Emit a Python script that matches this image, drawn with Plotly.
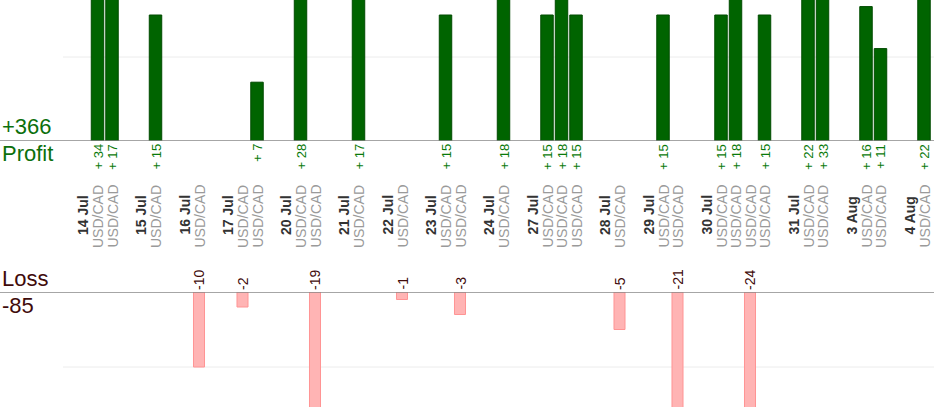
import plotly.graph_objects as go

# ---- data ----
trade_dates = ["14 Jul", "14 Jul", "15 Jul", "16 Jul", "17 Jul", "17 Jul", "20 Jul", "20 Jul",
               "21 Jul", "22 Jul", "23 Jul", "23 Jul", "24 Jul", "27 Jul", "27 Jul", "27 Jul",
               "28 Jul", "29 Jul", "29 Jul", "30 Jul", "30 Jul", "30 Jul", "30 Jul",
               "31 Jul", "31 Jul", "3 Aug", "3 Aug", "4 Aug"]
trade_pairs = ["USD/CAD"] * len(trade_dates)
trade_results = [34, 17, 15, -10, -2, 7, 28, -19,
                 17, -1, 15, -3, 18, 15, 18, 15,
                 -5, 15, -21, 15, 18, -24, 15,
                 22, 33, 16, 11, 22]

total_profit = sum(v for v in trade_results if v > 0)
total_loss = sum(v for v in trade_results if v < 0)

# ---- slot layout: [date label][trades...][gap] ----
date_slots = {}
trade_x = []
slot = 0
prev = None
for d in trade_dates:
    if d != prev:
        if prev is not None:
            slot += 1  # gap
        date_slots[d] = slot
        slot += 1
        prev = d
    trade_x.append(slot)
    slot += 1

W, H = 934, 420
PX_PER_SLOT = 14.5
X0_PX = 83
x_range = [-X0_PX / PX_PER_SLOT, (W - X0_PX) / PX_PER_SLOT]

TOP_BASE_PX = 141
TOP_SCALE = 8.4
BOT_BASE_PX = 292
BOT_END_PX = 407
BOT_SCALE = 7.5

def py(px):
    return (H - px) / H

FONT = "Liberation Sans, Arial, sans-serif"
GREEN_TXT = "#0c700c"
MAROON = "#3f0b0b"

prof_x = [x for x, v in zip(trade_x, trade_results) if v > 0]
prof_y = [v for v in trade_results if v > 0]
loss_x = [x for x, v in zip(trade_x, trade_results) if v < 0]
loss_y = [v for v in trade_results if v < 0]

fig = go.Figure()
fig.add_trace(go.Bar(x=prof_x, y=prof_y, width=0.86, xaxis="x", yaxis="y",
                     marker=dict(color="#006400", line=dict(color="#004b00", width=1)),
                     hoverinfo="skip", showlegend=False))
fig.add_trace(go.Bar(x=loss_x, y=loss_y, width=0.76, xaxis="x", yaxis="y2",
                     marker=dict(color="#ffb4b4", line=dict(color="#ff9494", width=1)),
                     hoverinfo="skip", showlegend=False))

annotations = []
# profit value labels
for x, v in zip(prof_x, prof_y):
    annotations.append(dict(x=x, y=0, xref="x", yref="y", text="+ %d" % v, textangle=-90,
                            showarrow=False, xanchor="center", yanchor="top", yshift=-1,
                            font=dict(family=FONT, size=13, color="#0a7a0a")))
# loss value labels
for x, v in zip(loss_x, loss_y):
    annotations.append(dict(x=x, y=0, xref="x", yref="y2", text="%d" % v, textangle=-90,
                            showarrow=False, xanchor="center", yanchor="bottom", yshift=0,
                            font=dict(family=FONT, size=14, color=MAROON)))
# date labels
for d, s in date_slots.items():
    annotations.append(dict(x=s, y=py(237), xref="x", yref="paper", text="<b>%s</b>" % d,
                            textangle=-90, showarrow=False, xanchor="center", yanchor="bottom",
                            font=dict(family=FONT, size=14, color="#333333")))
# pair labels
for x, p in zip(trade_x, trade_pairs):
    annotations.append(dict(x=x, y=py(250), xref="x", yref="paper", text=p,
                            textangle=-90, showarrow=False, xanchor="center", yanchor="bottom",
                            font=dict(family=FONT, size=14, color="#9a9a9a")))
# side labels
annotations += [
    dict(x=0, y=py(141), xref="paper", yref="paper", text="+%d" % total_profit, showarrow=False,
         xanchor="left", yanchor="bottom", xshift=0, font=dict(family=FONT, size=22, color=GREEN_TXT)),
    dict(x=0, y=py(139), xref="paper", yref="paper", text="Profit", showarrow=False,
         xanchor="left", yanchor="top", font=dict(family=FONT, size=22, color=GREEN_TXT)),
    dict(x=0, y=py(293), xref="paper", yref="paper", text="Loss", showarrow=False,
         xanchor="left", yanchor="bottom", font=dict(family=FONT, size=22, color=MAROON)),
    dict(x=0, y=py(291), xref="paper", yref="paper", text="%d" % total_loss, showarrow=False,
         xanchor="left", yanchor="top", font=dict(family=FONT, size=22, color=MAROON)),
]

shapes = [
    # gridlines at +10 / -10
    dict(type="line", xref="paper", yref="y", x0=63 / W, x1=1, y0=10, y1=10,
         line=dict(color="#ececec", width=1), layer="below"),
    dict(type="line", xref="paper", yref="y2", x0=63 / W, x1=1, y0=-10, y1=-10,
         line=dict(color="#ececec", width=1), layer="below"),
    # baselines
    dict(type="line", xref="paper", yref="y", x0=0, x1=1, y0=0, y1=0,
         line=dict(color="#888888", width=1.5), layer="above"),
    dict(type="line", xref="paper", yref="y2", x0=0, x1=1, y0=0, y1=0,
         line=dict(color="#888888", width=1.5), layer="above"),
]

fig.update_layout(
    width=W, height=H,
    margin=dict(l=0, r=0, t=0, b=0),
    paper_bgcolor="white", plot_bgcolor="rgba(0,0,0,0)",
    barmode="overlay",
    xaxis=dict(range=x_range, domain=[0, 1], visible=False, fixedrange=True),
    yaxis=dict(domain=[py(TOP_BASE_PX), 1], range=[0, TOP_BASE_PX / TOP_SCALE],
               visible=False, fixedrange=True),
    yaxis2=dict(domain=[py(BOT_END_PX), py(BOT_BASE_PX)],
                range=[-(BOT_END_PX - BOT_BASE_PX) / BOT_SCALE, 0],
                visible=False, fixedrange=True),
    annotations=annotations,
    shapes=shapes,
)

fig.write_html("out.html", config={"displayModeBar": False},
               post_script="document.body.style.margin='0';document.body.style.overflow='hidden';")
